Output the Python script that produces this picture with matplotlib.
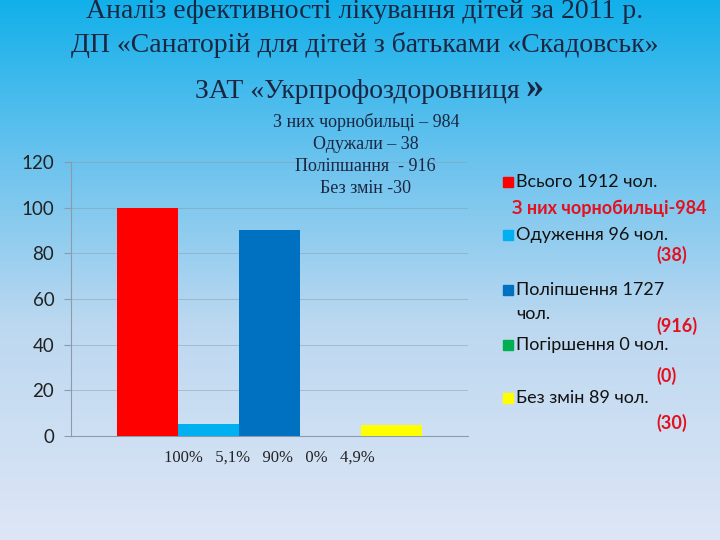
import numpy as np
import matplotlib
matplotlib.use("Agg")
import matplotlib.pyplot as plt
from matplotlib.colors import LinearSegmentedColormap
from matplotlib.patches import Rectangle

# ─── DATA ────────────────────────────────────────────────────────────────────
TITLE_LINES = ["Аналіз ефективності лікування дітей за 2011 р.",
               "ДП «Санаторій для дітей з батьками «Скадовськ»"]
TITLE_LINE3 = "ЗАТ «Укрпрофоздоровниця"
NOTE_LINES = ["З них чорнобильці – 984", "Одужали – 38",
              "Поліпшання  - 916", "Без змін -30"]
SERIES = ["Всього 1912 чол.", "Одуження 96 чол.", "Поліпшення 1727\nчол.",
          "Погіршення 0 чол.", "Без змін 89 чол."]
VALUES = [100, 5.1, 90, 0, 4.9]
PCT_LABELS = ["100%", "5,1%", "90%", "0%", "4,9%"]
CHERNOBYL = ["(38)", "(916)", "(0)", "(30)"]
COLORS = ["#ff0000", "#00b0f0", "#0070c0", "#00b050", "#ffff00"]
YTICKS = [0, 20, 40, 60, 80, 100, 120]
# ─────────────────────────────────────────────────────────────────────────────

fig = plt.figure(figsize=(7.2, 5.4), dpi=100)

# background gradient
bg = fig.add_axes([0, 0, 1, 1], zorder=-10)
cmap = LinearSegmentedColormap.from_list(
    "bg", [(0, "#12b0ea"), (0.3, "#6cc3ee"), (0.6, "#bcd8f0"), (1, "#dee6f6")])
bg.imshow(np.linspace(0, 1, 256).reshape(-1, 1), aspect="auto", cmap=cmap,
          extent=[0, 1, 0, 1], origin="upper")
bg.axis("off")

# titles (first line is cropped by the top edge in the original slide)
title_kw = dict(family="Liberation Serif", color="#1b2742", ha="center", va="center")
fig.text(0.507, 0.978, TITLE_LINES[0], fontsize=20, **title_kw)
fig.text(0.507, 0.916, TITLE_LINES[1], fontsize=20, **title_kw)
fig.text(0.497, 0.830, TITLE_LINE3, fontsize=20, **title_kw)
fig.text(0.742, 0.836, "»", fontsize=26, fontweight="bold", **title_kw)

for i, line in enumerate(NOTE_LINES):
    fig.text(0.508, 0.774 - i * 0.041, line, fontsize=13, **title_kw)

# bar chart: one category, five adjacent series bars
ax = fig.add_axes([0.0986, 0.1926, 0.5514, 0.5074])
ax.patch.set_alpha(0)
w = 61 / 397
for i, (v, c) in enumerate(zip(VALUES, COLORS)):
    ax.bar((i - 2) * w, v, width=w, color=c, zorder=3)
ax.set_xlim(-0.5, 0.5)
ax.set_ylim(0, 120)
ax.set_yticks(YTICKS)
ax.set_yticklabels([str(t) for t in YTICKS], family="Lato", fontsize=13.5, color="#222222")
ax.set_xticks([0])
ax.set_xticklabels(["   ".join(PCT_LABELS)], family="Liberation Serif", fontsize=12,
                   color="#222222")
ax.tick_params(axis="x", length=0, pad=10)
ax.tick_params(axis="y", length=5, color="#8c9aaa", width=0.8, pad=7)
ax.grid(axis="y", color="#8c9aaa", linewidth=0.7, alpha=0.5, zorder=0)
for s in ["top", "right"]:
    ax.spines[s].set_visible(False)
ax.spines["left"].set_color("#8c9aaa")
ax.spines["bottom"].set_color("#8c9aaa")

# legend built by hand
leg_kw = dict(family="Lato", fontsize=13, color="#111111", va="center", ha="left")
red_kw = dict(family="Lato", fontsize=13, color="#e3101f", fontweight="bold",
              va="center", ha="left")
item_y = [182, 235, 290, 345, 398]
for y, lab, c in zip(item_y, SERIES, COLORS):
    fig.patches.append(Rectangle((503 / 720, 1 - (y + 5) / 540), 10 / 720, 10 / 540,
                                 transform=fig.transFigure, color=c))
    for k, part in enumerate(lab.split("\n")):
        fig.text(516 / 720, 1 - (y + k * 24) / 540, part, **leg_kw)
fig.text(512 / 720, 1 - 208 / 540, "З них чорнобильці-984", **red_kw)
for y, lab in zip([255, 326, 376, 423], CHERNOBYL):
    fig.text(656 / 720, 1 - y / 540, lab, **red_kw)

fig.savefig("out.png", dpi=100)
